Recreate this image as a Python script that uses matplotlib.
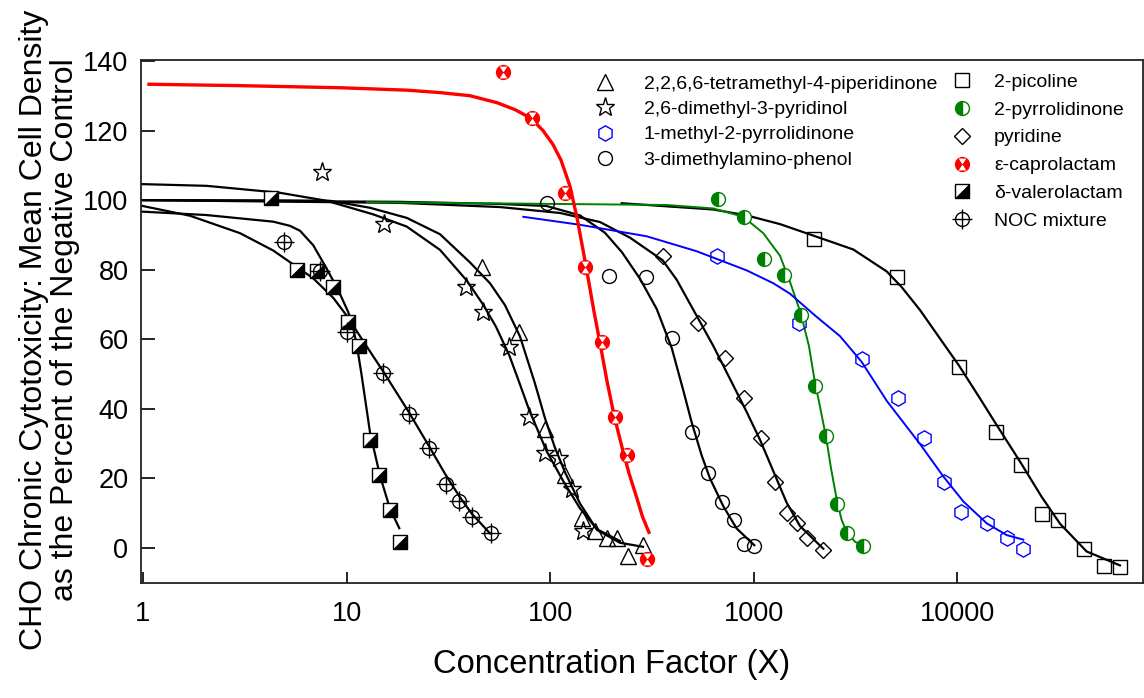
import numpy as np
import matplotlib
matplotlib.use('Agg')
import matplotlib.pyplot as plt
from matplotlib.path import Path

plt.rcParams['font.family'] = ['Liberation Sans', 'DejaVu Sans']

# ---------------- data points ----------------
tri_x = [46.0, 70.5, 94.2, 118.2, 142.9, 166.1, 189.5, 213.9, 240.3, 286.6]
tri_y = [80.9, 62.2, 34.1, 21.0, 8.5, 5.0, 2.8, 2.8, -2.3, 0.9]
star_x = [7.55, 15.3, 38.6, 46.9, 63.0, 78.9, 94.2, 110.5, 127.5, 145.5]
star_y = [108.2, 93.2, 75.0, 67.9, 57.9, 37.6, 27.2, 26.0, 16.9, 5.0]
hex_x = [657, 1674, 3388, 5129, 6870, 8590, 10420, 13930, 17480, 20930]
hex_y = [83.9, 64.6, 54.3, 43.0, 31.5, 19.1, 10.3, 7.3, 2.8, -0.4]
circ_x = [96.1, 195.1, 295.5, 395.3, 495.5, 597.7, 700.3, 799.5, 895.1, 1005.8]
circ_y = [99.1, 78.3, 78.0, 60.3, 33.4, 21.5, 13.3, 8.0, 1.2, 0.7]
pic_x = [1982, 5032, 10220, 15410, 20520, 25940, 31090, 41860, 52480, 62890]
pic_y = [88.8, 78.0, 51.9, 33.4, 24.0, 9.8, 8.0, -0.4, -5.1, -5.6]
pyr_x = [665, 895, 1122, 1407, 1700, 2000, 2265, 2554, 2858, 3428]
pyr_y = [100.2, 95.0, 83.1, 78.5, 67.0, 46.7, 32.2, 12.6, 4.2, 0.7]
pyd_x = [357, 534, 722, 898, 1085, 1271, 1451, 1624, 1819, 2195]
pyd_y = [84.0, 64.8, 54.5, 43.0, 31.5, 19.1, 10.2, 7.3, 2.8, -0.6]
cap_x = [58.5, 81.7, 118.2, 148.3, 179.0, 208.1, 239.2, 300.0]
cap_y = [136.7, 123.5, 102.0, 80.7, 59.1, 37.6, 26.7, -3.3]
val_x = [4.25, 5.73, 7.15, 8.60, 10.19, 11.51, 13.03, 14.47, 16.34, 18.30]
val_y = [100.7, 79.9, 79.6, 74.9, 65.0, 58.2, 31.0, 21.0, 10.9, 1.8]
noc_x = [4.94, 7.40, 10.0, 15.15, 20.25, 25.4, 30.7, 35.8, 41.2, 51.2]
noc_y = [88.0, 79.6, 62.0, 50.2, 38.4, 28.7, 18.3, 13.6, 9.0, 4.3]

# ---------------- fitted curves ----------------
tri_fx = [0.98, 5.27, 8.29, 13.03, 19.73, 28.76, 40.36, 50.62, 59.98, 71.08, 84.20,
          94.30, 105.6, 118.2, 140.1, 169.8, 220.2, 285.6]
tri_fy = [100.0, 99.9, 99.8, 97.8, 94.9, 90.2, 82.1, 76.1, 69.8, 60.8, 47.3,
          37.3, 28.8, 21.8, 12.8, 5.2, 1.5, 0.35]
star_fx = [0.98, 2.056, 4.709, 7.986, 13.52, 19.73, 28.76, 38.90, 46.93, 54.18, 62.97,
           70.29, 78.94, 96.12, 116.0, 140.1, 169.8, 220.2]
star_fy = [104.6, 104.1, 102.1, 99.8, 95.9, 92.4, 85.7, 76.9, 69.9, 63.6, 55.4,
           47.8, 39.6, 27.8, 19.2, 11.4, 5.4, 2.0]
val_fx = [0.98, 2.056, 4.365, 5.272, 5.903, 6.862, 7.986, 8.604, 9.387, 10.19, 10.75,
          11.25, 11.84, 13.03, 14.59, 16.34, 18.15]
val_fy = [96.7, 95.7, 93.8, 92.6, 91.2, 87.0, 80.3, 76.8, 72.4, 67.8, 63.6,
          58.0, 49.9, 33.3, 20.8, 11.3, 5.7]
noc_fx = [0.98, 1.702, 2.995, 4.365, 5.473, 6.862, 8.604, 10.01, 12.31, 15.15, 20.25,
          25.39, 30.67, 35.77, 41.16, 50.62]
noc_fy = [98.4, 95.5, 90.5, 85.5, 81.5, 77.5, 71.9, 66.8, 58.7, 50.7, 39.0,
          29.3, 21.0, 14.9, 9.9, 4.2]
circ_fx = [0.98, 18.30, 56.68, 96.12, 140.1, 185.9, 225.3, 276.1, 333.6, 395.3, 450.6,
           495.5, 554.8, 609.5, 708.5, 824.1, 1006]
circ_fy = [100.0, 99.5, 98.9, 98.3, 95.6, 90.6, 85.0, 77.4, 68.7, 57.5, 45.3,
           36.1, 26.6, 20.0, 12.0, 5.6, 0.8]
pyd_fx = [0.98, 18.30, 56.68, 111.7, 175.6, 246.6, 356.9, 418.2, 504.4, 632.5, 764.2,
          922.9, 1073, 1247, 1451, 1687, 2195]
pyd_fy = [100.0, 99.2, 98.0, 96.3, 93.7, 89.2, 82.7, 77.1, 68.5, 58.1, 48.6,
          39.1, 31.1, 22.1, 13.0, 6.3, -0.2]
pic_fx = [224.5, 632.5, 922.9, 1345, 1960, 3082, 4496, 5325, 6552, 10220, 12910,
          15420, 20530, 25940, 31910, 43150, 62890]
pic_fy = [99.1, 97.3, 95.6, 93.1, 89.8, 85.8, 79.5, 75.0, 68.4, 52.3, 43.0,
          35.8, 24.4, 14.7, 7.0, -1.0, -5.0]
pyr_fx = [12.6, 45.2, 373.5, 632.5, 888.3, 1113, 1345, 1506, 1700, 1867, 1998, 2126,
          2270, 2394, 2554, 2697, 2860, 3142, 3450]
pyr_fy = [99.4, 99.1, 98.6, 97.6, 95.2, 90.5, 84.0, 76.5, 67.5, 58.0, 47.5, 40.0,
          31.5, 23.0, 14.0, 8.2, 4.5, 1.8, 0.6]
hex_fx = [73.8, 140.1, 297.8, 524.2, 922.9, 1247, 1506, 2030, 2651, 3388, 4511,
          6552, 8521, 10690, 13930, 17470, 21070]
hex_fy = [95.2, 92.9, 89.6, 85.3, 79.8, 76.1, 73.1, 66.5, 60.9, 53.5, 42.2,
          29.9, 20.6, 13.4, 7.1, 3.7, 2.4]
cap_fx = [1.07, 2.995, 9.28, 19.80, 28.76, 40.36, 54.8, 67.2, 80.5, 92.2, 103.2, 113.0,
          125.1, 135.4, 145.7, 154.2, 164.1, 175.6, 190.1, 206.9, 225.3, 243.8, 265.4,
          284.0, 305.6]
cap_fy = [133.3, 132.9, 132.3, 131.6, 130.9, 130.0, 128.0, 126.0, 123.5, 120.0, 116.0, 111.5,
          104.0, 95.0, 85.0, 77.0, 68.0, 59.0, 48.0, 37.6, 29.0, 21.5, 14.7,
          9.0, 4.5]

x_ticks = [1, 10, 100, 1000, 10000]
x_ticklabels = ['1', '10', '100', '1000', '10000']
y_ticks = [0, 20, 40, 60, 80, 100, 120, 140]

labels_left = ['2,2,6,6-tetramethyl-4-piperidinone', '2,6-dimethyl-3-pyridinol',
               '1-methyl-2-pyrrolidinone', '3-dimethylamino-phenol']
labels_right = ['2-picoline', '2-pyrrolidinone', 'pyridine', 'ε-caprolactam',
                'δ-valerolactam', 'NOC mixture']

GREEN = '#008000'
BLUE = '#0000ff'
RED = '#ff0000'

# custom marker paths
half_tri = Path([(1, 1), (1, -1), (-1, -1), (1, 1)],
                [Path.MOVETO, Path.LINETO, Path.LINETO, Path.CLOSEPOLY])
hourglass = Path([(-0.55, 0.85), (0.55, 0.85), (0, 0), (-0.55, 0.85),
                  (-0.55, -0.85), (0.55, -0.85), (0, 0), (-0.55, -0.85)],
                 [Path.MOVETO, Path.LINETO, Path.LINETO, Path.CLOSEPOLY,
                  Path.MOVETO, Path.LINETO, Path.LINETO, Path.CLOSEPOLY])

W, H = 1144, 698
fig = plt.figure(figsize=(W / 100, H / 100), dpi=100)
ax = fig.add_axes([141 / W, (H - 583) / H, (1143 - 141) / W, (583 - 60) / H])
ax.set_xscale('log')
ax.set_xlim(0.978, 81600)
ax.set_ylim(-10.06, 140.27)

lw_k = 1.6
for fx, fy in [(tri_fx, tri_fy), (star_fx, star_fy), (val_fx, val_fy), (noc_fx, noc_fy),
               (circ_fx, circ_fy), (pyd_fx, pyd_fy), (pic_fx, pic_fy)]:
    ax.plot(fx, fy, color='black', lw=lw_k, solid_joinstyle='round', zorder=2)
ax.plot(pyr_fx, pyr_fy, color=GREEN, lw=1.4, solid_joinstyle='round', zorder=3)
ax.plot(hex_fx, hex_fy, color=BLUE, lw=1.4, solid_joinstyle='round', zorder=3)
ax.plot(cap_fx, cap_fy, color=RED, lw=2.4, solid_joinstyle='round', zorder=3)

mew = 1.0
h_tri, = ax.plot(tri_x, tri_y, ls='none', marker='^', ms=11, mfc='none', mec='black', mew=mew, zorder=4)
h_star, = ax.plot(star_x, star_y, ls='none', marker='*', ms=14, mfc='none', mec='black', mew=mew, zorder=4)
h_hex, = ax.plot(hex_x, hex_y, ls='none', marker='h', ms=11, mfc='none', mec=BLUE, mew=mew, zorder=4)
h_circ, = ax.plot(circ_x, circ_y, ls='none', marker='o', ms=10, mfc='none', mec='black', mew=mew, zorder=4)
h_pic, = ax.plot(pic_x, pic_y, ls='none', marker='s', ms=10, mfc='none', mec='black', mew=mew, zorder=4)
h_pyr, = ax.plot(pyr_x, pyr_y, ls='none', marker='o', ms=10, fillstyle='left', mfc=GREEN,
                 markerfacecoloralt='white', mec=GREEN, mew=mew, zorder=4)
h_pyd, = ax.plot(pyd_x, pyd_y, ls='none', marker='D', ms=8.5, mfc='none', mec='black', mew=mew, zorder=4)
h_cap1, = ax.plot(cap_x, cap_y, ls='none', marker='o', ms=10, mfc=RED, mec=RED, mew=mew, zorder=4)
h_cap2, = ax.plot(cap_x, cap_y, ls='none', marker=hourglass, ms=8.5, mfc='white', mec='none', mew=0, zorder=5)
h_val1, = ax.plot(val_x, val_y, ls='none', marker='s', ms=10, mfc='white', mec='black', mew=mew, zorder=4)
h_val2, = ax.plot(val_x, val_y, ls='none', marker=half_tri, ms=10, mfc='black', mec='black', mew=0.5, zorder=5)
h_noc1, = ax.plot(noc_x, noc_y, ls='none', marker='o', ms=10, mfc='none', mec='black', mew=mew, zorder=4)
h_noc2, = ax.plot(noc_x, noc_y, ls='none', marker='+', ms=14, mec='black', mew=mew, zorder=4)

# axes styling
ax.xaxis.set_major_locator(matplotlib.ticker.FixedLocator(x_ticks))
ax.xaxis.set_major_formatter(matplotlib.ticker.FixedFormatter(x_ticklabels))
ax.xaxis.set_minor_locator(matplotlib.ticker.NullLocator())
ax.set_yticks(y_ticks)
ax.tick_params(axis='both', which='major', direction='in', width=1.2, labelsize=19.5, colors='black')
ax.tick_params(axis='y', length=10, pad=9)
ax.tick_params(axis='x', length=8, pad=13)
for s in ax.spines.values():
    s.set_linewidth(1.3)
    s.set_color('#222222')

ax.set_xlabel('Concentration Factor (X)', fontsize=23.5)
ax.xaxis.set_label_coords(0.470, -0.127)
fig.text(49.5 / W, 1 - 330 / H,
         'CHO Chronic Cytotoxicity: Mean Cell Density\nas the Percent of the Negative Control',
         rotation=90, ha='center', va='center', fontsize=23, linespacing=1.08,
         multialignment='center')

leg1 = ax.legend([h_tri, h_star, h_hex, h_circ], labels_left,
                 loc='upper left', bbox_to_anchor=(594.6 / W, 1 - 75 / H),
                 bbox_transform=fig.transFigure, frameon=False, fontsize=14,
                 handlelength=1.07, handletextpad=1.45, labelspacing=0.40,
                 borderpad=0, borderaxespad=0, markerscale=1.0)
ax.add_artist(leg1)
leg2 = ax.legend([h_pic, h_pyr, h_pyd, (h_cap1, h_cap2), (h_val1, h_val2), (h_noc1, h_noc2)],
                 labels_right, loc='upper left', bbox_to_anchor=(951.6 / W, 1 - 73 / H),
                 bbox_transform=fig.transFigure, frameon=False, fontsize=14,
                 handlelength=1.07, handletextpad=1.12, labelspacing=0.53,
                 borderpad=0, borderaxespad=0, markerscale=1.0)

fig.savefig('out.png', dpi=100)
